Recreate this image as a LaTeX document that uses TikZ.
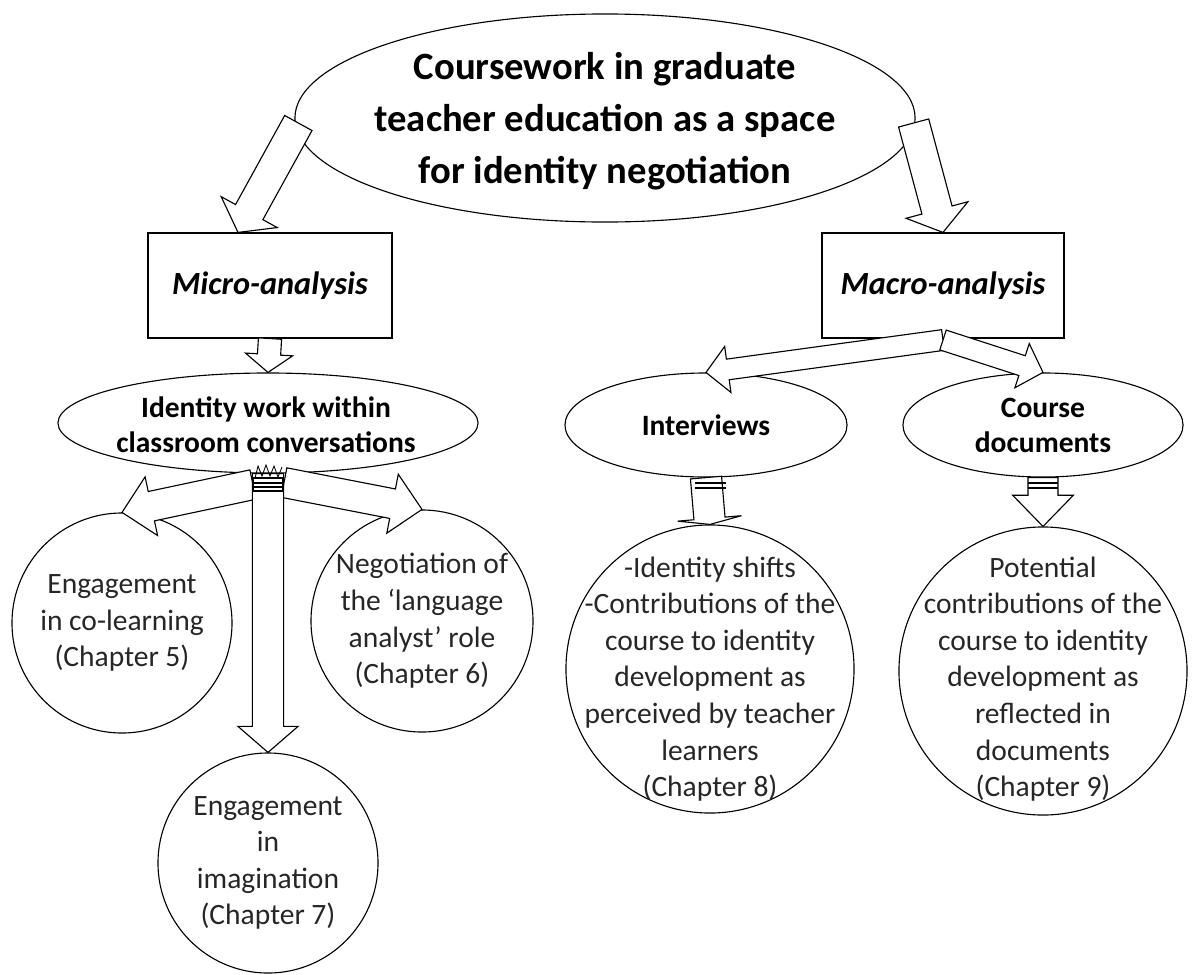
\documentclass[tikz,border=0pt]{standalone}
\usepackage{fontspec}
\setmainfont{Carlito}
\usetikzlibrary{shapes.geometric,calc}

% hollow block arrow: tail, tip, half shaft, half head, head length
\newcommand{\fatarrow}[5]{%
  \coordinate (neck) at ($(#2)!#5!(#1)$);
  \draw[fill=white] ($(#1)!#3!90:(#2)$) -- ($(neck)!#3!90:(#2)$) -- ($(neck)!#4!90:(#2)$) -- (#2)
    -- ($(neck)!#4!-90:(#2)$) -- ($(neck)!#3!-90:(#2)$) -- ($(#1)!#3!-90:(#2)$) -- cycle;
}

\begin{document}
\begin{tikzpicture}[x=0.025cm, y=-0.025cm, line width=0.8pt,
    oval/.style={draw, ellipse, inner sep=0pt},
    bubble/.style={draw, circle, inner sep=0pt, minimum size=#1},
    box/.style={draw, rectangle, inner sep=0pt},
    txt/.style={align=center, inner sep=0pt, text=black!85, font=\fontsize{21pt}{26pt}\selectfont},
    bold/.style={align=center, inner sep=0pt, font=\fontsize{21pt}{25pt}\selectfont\bfseries},
    head/.style={align=center, inner sep=0pt, font=\fontsize{27.5pt}{37pt}\selectfont\bfseries},
    level/.style={inner sep=0pt, font=\fontsize{23pt}{28pt}\selectfont\bfseries\itshape}]
\useasboundingbox (0,0) rectangle (1203,974);

% top
\node[oval, minimum width=15.5cm, minimum height=5.2cm] (top) at (605,118) {};
\node[head] (top-t) at (605,121) {Coursework in graduate\\teacher education as a space\\for identity negotiation};

% the two analyses
\node[box, minimum width=6.1cm, minimum height=2.625cm] (micro) at (270,285.5) {};
\node[level] (micro-t) at (micro) {Micro-analysis};
\node[box, minimum width=6.05cm, minimum height=2.625cm] (macro) at (943,285.5) {};
\node[level] (macro-t) at (macro) {Macro-analysis};

\coordinate (tl-tail) at ($(top.west)+(4,5)$);
\coordinate (tl-tip) at ($(micro.north)+(-32,0)$);
\coordinate (tr-tail) at ($(top.east)+(-2,5)$);
\fatarrow{tl-tail}{tl-tip}{0.39cm}{0.8cm}{0.58cm}
\fatarrow{tr-tail}{macro.north}{0.39cm}{0.8cm}{0.58cm}

% micro side
\node[oval, minimum width=10.5cm, minimum height=2.5cm] (ident) at (268,423) {};
\node[bold] (ident-t) at (266,425) {Identity work within\\classroom conversations};
\fatarrow{micro.south}{ident.north}{0.29cm}{0.59cm}{0.45cm}

\node[bubble=5.5cm] (c1) at (122,623) {};
\node[txt] (c1-t) at (c1) {Engagement\\in co-learning\\(Chapter 5)};
\node[bubble=5.55cm] (c2) at (422,621) {};
\node[txt] (c2-t) at (c2) {Negotiation of\\the `language\\analyst' role\\(Chapter 6)};
\node[bubble=5.5cm] (c3) at (268,863) {};
\node[txt] (c3-t) at (c3) {Engagement\\in\\imagination\\(Chapter 7)};

\coordinate (il-tail) at ($(ident.south)+(-15,11)$);
\coordinate (ir-tail) at ($(ident.south)+(16,9)$);
\fatarrow{il-tail}{c1.north}{0.375cm}{0.75cm}{0.75cm}
\fatarrow{ir-tail}{c2.north}{0.375cm}{0.75cm}{0.75cm}
\fatarrow{ident.south}{c3.north}{0.39cm}{0.75cm}{0.65cm}
\draw[fill=white] (253,478) rectangle (283,491); % stacked tails
\draw (253,483) -- (283,483);
\draw (253,487) -- (283,487);
\draw[line width=0.6pt] (255,478) -- (258,466) -- (262,476) -- (266,465) -- (270,476) -- (274,466) -- (278,477) -- (282,467);

% macro side
\node[oval, minimum width=7.05cm, minimum height=2.6cm] (inter) at (706,425) {};
\node[bold] (inter-t) at (inter) {Interviews};
\node[oval, minimum width=7cm, minimum height=2.6cm] (docs) at (1043,425) {};
\node[bold] (docs-t) at (docs) {Course\\documents};
\coordinate (mj) at (943,340);
\fatarrow{mj}{inter.north}{0.26cm}{0.58cm}{0.55cm}
\fatarrow{mj}{docs.north}{0.26cm}{0.58cm}{0.55cm}

\node[bubble=7.2cm] (c4) at (710,669) {};
\node[txt] (c4-t) at (710,679) {-Identity shifts\\-Contributions of the\\course to identity\\development as\\perceived by teacher\\learners\\(Chapter 8)};
\node[bubble=7.2cm] (c5) at (1043,671) {};
\node[txt] (c5-t) at (1043,679) {Potential\\contributions of the\\course to identity\\development as\\reflected in\\documents\\(Chapter 9)};

\fatarrow{inter.south}{c4.north}{0.39cm}{0.8cm}{0.15cm}
\draw (694.5,483) -- (725.5,483);
\draw (694.5,488) -- (725.5,488);
\fatarrow{docs.south}{c5.north}{0.375cm}{0.76cm}{0.78cm}
\draw (1028,483) -- (1058,483);
\draw (1028,488) -- (1058,488);
\end{tikzpicture}
\end{document}
